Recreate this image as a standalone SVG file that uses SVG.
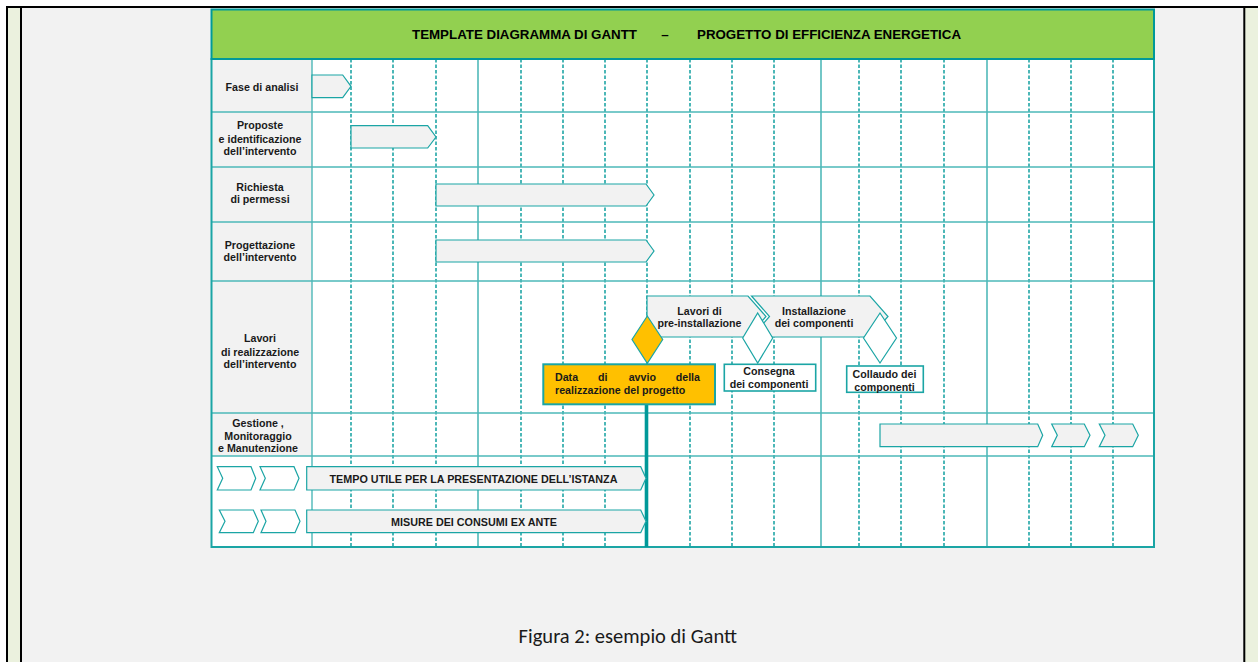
<svg xmlns="http://www.w3.org/2000/svg" width="1258" height="662" viewBox="0 0 1258 662">
<style>
.lbl{font-family:"Liberation Sans",Arial,sans-serif;font-size:10.67px;font-weight:bold;fill:#1a1a1a;text-anchor:middle}
.hdr{font-family:"Liberation Sans",Arial,sans-serif;font-size:13.33px;font-weight:bold;fill:#000}
.bar{fill:#F2F2F2;stroke:#1BA5A5;stroke-width:1.2}
.chev{fill:#FFFFFF;stroke:#1BA5A5;stroke-width:1.2}
.dia{fill:#FFFFFF;stroke:#1BA5A5;stroke-width:1.2}
.row{stroke:#4DB8B8;stroke-width:1.4}
.vd{stroke:#009999;stroke-width:1.4;stroke-dasharray:3.5 2}
.vs{stroke:#009999;stroke-width:1.1}
</style>
<g id="page">
<rect x="0" y="0" width="1258" height="662" fill="#FFFFFF"/>
<rect x="8" y="8" width="1237" height="654" fill="#F2F2F2"/>
<rect x="8" y="8" width="13" height="654" fill="#EBF1DE"/>
<rect x="1245" y="8" width="13" height="654" fill="#EBF1DE"/>
<line x1="6" y1="7" x2="1258" y2="7" stroke="#000" stroke-width="2"/>
<line x1="7" y1="6" x2="7" y2="662" stroke="#000" stroke-width="2"/>
<line x1="21" y1="8" x2="21" y2="662" stroke="#000" stroke-width="2"/>
<line x1="1244.3" y1="8" x2="1244.3" y2="662" stroke="#000" stroke-width="2"/>
</g>
<g id="grid">
<rect x="211" y="59" width="943" height="488" fill="#FFFFFF"/>
<rect x="211" y="59" width="101" height="397" fill="#F2F2F2"/>
<line class="vd" x1="351" y1="59" x2="351" y2="547"/>
<line class="vd" x1="393" y1="59" x2="393" y2="547"/>
<line class="vd" x1="436" y1="59" x2="436" y2="547"/>
<line class="vs" x1="478" y1="59" x2="478" y2="547"/>
<line class="vd" x1="521" y1="59" x2="521" y2="547"/>
<line class="vd" x1="563" y1="59" x2="563" y2="547"/>
<line class="vd" x1="605" y1="59" x2="605" y2="547"/>
<line class="vd" x1="647" y1="59" x2="647" y2="547"/>
<line class="vd" x1="690" y1="59" x2="690" y2="547"/>
<line class="vd" x1="732" y1="59" x2="732" y2="547"/>
<line class="vd" x1="774" y1="59" x2="774" y2="547"/>
<line class="vs" x1="821" y1="59" x2="821" y2="547"/>
<line class="vd" x1="859" y1="59" x2="859" y2="547"/>
<line class="vd" x1="901" y1="59" x2="901" y2="547"/>
<line class="vd" x1="944" y1="59" x2="944" y2="547"/>
<line class="vs" x1="987" y1="59" x2="987" y2="547"/>
<line class="vd" x1="1029" y1="59" x2="1029" y2="547"/>
<line class="vd" x1="1071" y1="59" x2="1071" y2="547"/>
<line class="vd" x1="1113" y1="59" x2="1113" y2="547"/>
<line class="row" x1="211" y1="112" x2="1154" y2="112"/>
<line class="row" x1="211" y1="167" x2="1154" y2="167"/>
<line class="row" x1="211" y1="222" x2="1154" y2="222"/>
<line class="row" x1="211" y1="281" x2="1154" y2="281"/>
<line class="row" x1="211" y1="413" x2="1154" y2="413"/>
<line class="row" x1="211" y1="456" x2="1154" y2="456"/>
<line class="row" x1="312" y1="59" x2="312" y2="547"/>
<rect x="211.5" y="59" width="942.5" height="488" fill="none" stroke="#1BA5A5" stroke-width="2"/>
</g>
<g id="header">
<rect x="211.5" y="9.5" width="942.5" height="49.5" fill="#92D050" stroke="#009999" stroke-width="2"/>
<text class="hdr" x="412" y="39" textLength="225" lengthAdjust="spacingAndGlyphs">TEMPLATE DIAGRAMMA DI GANTT</text>
<text class="hdr" x="665" y="39" text-anchor="middle">–</text>
<text class="hdr" x="697" y="39" textLength="264" lengthAdjust="spacingAndGlyphs">PROGETTO DI EFFICIENZA ENERGETICA</text>
</g>
<g id="labels">
<text class="lbl" x="262" y="90.5">Fase di analisi</text>
<text class="lbl" x="260" y="129">Proposte</text>
<text class="lbl" x="260" y="142.5">e identificazione</text>
<text class="lbl" x="260" y="155">dell’intervento</text>
<text class="lbl" x="260" y="190.5">Richiesta</text>
<text class="lbl" x="260" y="202.5">di permessi</text>
<text class="lbl" x="260" y="249">Progettazione</text>
<text class="lbl" x="260" y="261">dell’intervento</text>
<text class="lbl" x="260" y="342">Lavori</text>
<text class="lbl" x="260" y="355.5">di realizzazione</text>
<text class="lbl" x="260" y="368">dell’intervento</text>
<text class="lbl" x="258" y="427">Gestione ,</text>
<text class="lbl" x="258" y="439.5">Monitoraggio</text>
<text class="lbl" x="258" y="452">e Manutenzione</text>
</g>
<g id="connectors">
<line x1="646.5" y1="404.3" x2="646.5" y2="547" stroke="#009999" stroke-width="3.6"/>
</g>
<g id="fase-analisi"><polygon class="bar" points="312,75 342.7,75 351,86.3 342.7,97.7 312,97.7"/></g>
<g id="proposte"><polygon class="bar" points="351,125.7 427.7,125.7 436,137 427.7,148 351,148"/></g>
<g id="richiesta"><polygon class="bar" points="436,184 646,184 654,195 646,206 436,206"/></g>
<g id="progettazione"><polygon class="bar" points="436,240 646,240 654,251 646,262 436,262"/></g>
<g id="pre-installazione">
<polygon class="bar" points="647,296 748,296 766,316.5 748,337 647,337"/>
<text class="lbl" x="699.5" y="314.5">Lavori di</text>
<text class="lbl" x="699.5" y="327">pre-installazione</text>
</g>
<g id="installazione">
<polygon class="bar" points="751.5,296 870,296 888,316.5 870,337 751.5,337 769.5,316.5"/>
<text class="lbl" x="814" y="314.5">Installazione</text>
<text class="lbl" x="814" y="327">dei componenti</text>
</g>
<g id="consegna">
<polygon class="dia" points="757.7,313 772.7,338 757.7,363 742.7,338"/>
<rect x="724.3" y="364.3" width="91.4" height="26.7" fill="#FFFFFF" stroke="#1BA5A5" stroke-width="1.6"/>
<text class="lbl" x="769" y="374.5">Consegna</text>
<text class="lbl" x="769" y="388">dei componenti</text>
</g>
<g id="collaudo">
<polygon class="dia" points="880,313 896.5,338 880,363 863.5,338"/>
<rect x="846.7" y="366" width="76.6" height="26.3" fill="#FFFFFF" stroke="#1BA5A5" stroke-width="1.6"/>
<text class="lbl" x="884.5" y="378">Collaudo dei</text>
<text class="lbl" x="884.5" y="390.5">componenti</text>
</g>
<g id="data-avvio">
<polygon points="647.3,316 662.7,339.5 647.3,363.3 632,339.5" fill="#FFC000" stroke="#1BA5A5" stroke-width="1.2"/>
<rect x="543.3" y="364.3" width="171.7" height="40" fill="#FFC000" stroke="#1BA5A5" stroke-width="2"/>
<text class="lbl" x="555" y="381" style="text-anchor:start">Data</text>
<text class="lbl" x="598" y="381" style="text-anchor:start">di</text>
<text class="lbl" x="628.7" y="381" style="text-anchor:start">avvio</text>
<text class="lbl" x="700" y="381" style="text-anchor:end">della</text>
<text class="lbl" x="555" y="394" style="text-anchor:start">realizzazione del progetto</text>
</g>
<g id="gestione">
<polygon class="bar" points="880,424 1037.7,424 1042.7,435.3 1037.7,446.7 880,446.7"/>
<polygon class="bar" points="1051.7,424 1084.3,424 1090,435.3 1084.3,446.7 1051.7,446.7 1057.3,435.3"/>
<polygon class="bar" points="1099.3,424 1132.7,424 1138.3,435.3 1132.7,446.7 1099.3,446.7 1105,435.3"/>
</g>
<g id="tempo-utile">
<polygon class="chev" points="217.3,466.7 251,466.7 255.7,478.3 251,490 217.3,490 222.7,478.3"/>
<polygon class="chev" points="260,466.7 294,466.7 299,478.3 294,490 260,490 265.3,478.3"/>
<polygon class="bar" points="306.7,466.7 640.7,466.7 646,478.3 640.7,490 306.7,490"/>
<text class="lbl" x="329.5" y="483" style="text-anchor:start" textLength="288" lengthAdjust="spacingAndGlyphs">TEMPO UTILE PER LA PRESENTAZIONE DELL’ISTANZA</text>
</g>
<g id="misure">
<polygon class="chev" points="219.3,510 253.3,510 258.3,521.3 253.3,532.7 219.3,532.7 225,521.3"/>
<polygon class="chev" points="261,510 295,510 300,521.3 295,532.7 261,532.7 266,521.3"/>
<polygon class="bar" points="306.7,510 640.7,510 646,521.3 640.7,532.7 306.7,532.7"/>
<text class="lbl" x="391" y="526" style="text-anchor:start" textLength="166" lengthAdjust="spacingAndGlyphs">MISURE DEI CONSUMI EX ANTE</text>
</g>
<g id="caption">
<text x="737" y="643" text-anchor="end" font-family="Carlito, Lato, 'Liberation Sans', sans-serif" font-size="20.5" fill="#1a1a1a">Figura 2: esempio di Gantt</text>
</g>
</svg>
